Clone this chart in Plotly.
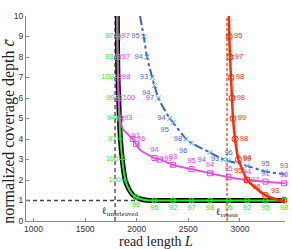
import plotly.graph_objects as go

# ---------------- data ----------------
x_range = [927, 3437]
y_range = [0, 10]
x_ticks = [1000, 1500, 2000, 2500, 3000]
y_ticks = [0, 1, 2, 3, 4, 5, 6, 7, 8, 9, 10]

L_interleaved = 1790
L_repeat = 2875
c_floor = 1

# sampled read lengths (shared grid) and coverage levels
L_grid = [1993, 2172, 2352, 2531, 2710, 2890, 3069, 3248, 3427]
c_levels = [9, 8, 7, 6, 5, 4, 3, 2]

# green / black curve
green_line_L = [1812, 1813, 1815, 1818, 1825, 1832, 1842, 1860, 1888, 1919, 1950, 1983, 2048, 2100, 2172, 3437]
green_line_c = [10, 9, 8, 7, 6, 5, 4, 3, 2, 1.6, 1.35, 1.19, 1.06, 1.01, 1.0, 1.0]
green_lvl_L = [1813, 1815, 1818, 1825, 1832, 1842, 1860, 1888]
green_lvl_lbl = ["97", "93", "100", "99", "94", "97", "100", "100"]
green_grid_c = [1.17, 1, 1, 1, 1, 1, 1, 1, 1]
green_grid_lbl = ["96", "95", "92", "97", "98", "95", "92", "95", "98"]

# blue dash-dot curve
blue_line_L = [2032, 2068, 2100, 2150, 2172, 2209, 2320, 2352, 2480, 2531, 2710, 2840, 2890, 3069, 3248, 3437]
blue_line_c = [10, 9, 8, 7, 6.6, 6, 5, 4.8, 4, 3.8, 3.34, 3, 2.93, 2.69, 2.41, 2.28]
blue_lvl_L = [2068, 2100, 2150, 2209, 2320, 2480, 2840]
blue_lvl_lbl = ["95", "94", "93", "97", "94", "98", "93"]
blue_grid_c = [None, 6.6, 4.8, 3.8, 3.34, 2.93, 2.69, 2.41, 2.30]
blue_grid_lbl = ["", "94", "95", "96", "94", "96", "94", "95", "93"]

# magenta curve
mag_line_L = [1812, 1813, 1815, 1818, 1825, 1838, 1850, 1870, 1961, 1993, 2032, 2172, 2226, 2352, 2531, 2710, 2890, 3069, 3248, 3437]
mag_line_c = [10, 9, 8, 7, 6, 5, 4.7, 4.45, 4.0, 3.75, 3.47, 3.07, 3.0, 2.74, 2.53, 2.33, 2.14, 2.0, 1.92, 1.84]
mag_lvl_L = [1813, 1815, 1818, 1825, 1838, 1961, 2226, 3066]
mag_lvl_lbl = ["97", "97", "98", "100", "93", "96", "99", "97"]
mag_grid_c = [3.75, 3.07, 2.74, 2.53, 2.33, 2.14, 2.0, 1.92, 1.84]
mag_grid_lbl = ["91", "94", "93", "95", "94", "95", "94", "91", "98"]

# red curve
red_line_L = [2893, 2897, 2904, 2914, 2923, 2933, 2953, 2985, 3025, 3069, 3180, 3248, 3360, 3437]
red_line_c = [10, 9, 8, 7, 6, 5, 4, 3, 2.5, 2.0, 1.5, 1.25, 1.05, 1.0]
red_lvl_L = [2897, 2904, 2914, 2923, 2933, 2953, 2985]
red_lvl_lbl = ["95", "97", "98", "98", "99", "98", "99"]
red_grid_c = [None, None, None, None, None, None, 2.0, 1.25, 1.02]
red_grid_lbl = ["", "", "", "", "", "", "95", "96", "93"]

# ---------------- styles ----------------
GREEN = "#22ee22"
BLUE = "#3f5fd8"
CYAN = "#44b4ff"
BLUE_TXT = "#5a62d0"
MAGENTA = "#f040f0"
RED = "#ff2a00"
LBL_FONT = "Liberation Sans Narrow, Liberation Sans, Arial"
SERIF = "Liberation Serif, Times New Roman, serif"

fig = go.Figure()


def dropna(xs, ys, ts):
    out = [(a, b, t) for a, b, t in zip(xs, ys, ts) if b is not None]
    return [o[0] for o in out], [o[1] for o in out], [o[2] for o in out]


# reference lines
fig.add_trace(go.Scatter(x=[x_range[0], x_range[1]], y=[c_floor, c_floor], mode="lines",
                         line=dict(color="#444444", width=1.3, dash="4px,3px"), hoverinfo="skip"))
fig.add_trace(go.Scatter(x=[L_interleaved, L_interleaved], y=y_range, mode="lines",
                         line=dict(color="#444444", width=1.3, dash="4px,3px"), hoverinfo="skip"))
fig.add_trace(go.Scatter(x=[L_repeat, L_repeat], y=y_range, mode="lines",
                         line=dict(color=RED, width=1.2, dash="3px,2px"), hoverinfo="skip"))

# black + green curve
fig.add_trace(go.Scatter(x=green_line_L, y=green_line_c, mode="lines",
                         line=dict(color="black", width=5, shape="spline", smoothing=0.6)))
fig.add_trace(go.Scatter(x=green_line_L, y=green_line_c, mode="lines",
                         line=dict(color=GREEN, width=2, shape="spline", smoothing=0.6)))

# magenta curve
fig.add_trace(go.Scatter(x=mag_line_L, y=mag_line_c, mode="lines",
                         line=dict(color=MAGENTA, width=1.8, shape="spline", smoothing=0.6)))
# blue curve
fig.add_trace(go.Scatter(x=blue_line_L, y=blue_line_c, mode="lines",
                         line=dict(color=BLUE, width=2, dash="dashdot", shape="spline", smoothing=0.6)))
# red curve
fig.add_trace(go.Scatter(x=red_line_L, y=red_line_c, mode="lines",
                         line=dict(color=RED, width=2.5, shape="spline", smoothing=0.6)))


# markers + labels
def add_marks(xs, ys, labels, symbol, mcolor, tcolor, tpos, msize=5):
    xs, ys, labels = dropna(xs, ys, labels)
    fig.add_trace(go.Scatter(
        x=xs, y=ys, mode="markers+text", text=labels, textposition=tpos,
        marker=dict(symbol=symbol, size=msize, color=mcolor, line=dict(color=mcolor, width=1)),
        textfont=dict(family=LBL_FONT, size=7.5, color=tcolor), cliponaxis=False))


add_marks(green_lvl_L, c_levels, green_lvl_lbl, "cross-thin-open", GREEN, GREEN, "middle left")
add_marks(L_grid, green_grid_c, green_grid_lbl, "circle-open", GREEN, GREEN, "bottom center")

add_marks(mag_lvl_L, c_levels, mag_lvl_lbl, "square-open", MAGENTA, MAGENTA, "middle right")
add_marks(L_grid, mag_grid_c, mag_grid_lbl, "square-open", MAGENTA, MAGENTA, "top center")

add_marks(blue_lvl_L, c_levels[:7], blue_lvl_lbl, "x-thin-open", CYAN, BLUE_TXT, "middle left")
blue_pos = ["bottom left" if L < 2850 else "top center" for L in L_grid]
add_marks(L_grid, blue_grid_c, blue_grid_lbl, "x-thin-open", CYAN, BLUE_TXT,
          [p for p, c in zip(blue_pos, blue_grid_c) if c is not None])

add_marks(red_lvl_L, c_levels[:7], red_lvl_lbl, "circle-open", RED, RED, "middle right", msize=6)
add_marks(L_grid, red_grid_c, red_grid_lbl, "circle-open", RED, RED, "top left", msize=6)

# line labels
fig.add_annotation(x=L_interleaved, y=0, xref="x", yref="y", text="ℓ<sub>interleaved</sub>",
                   showarrow=False, xanchor="center", yanchor="bottom", xshift=5, yshift=1,
                   font=dict(family=SERIF, size=10, color="#222222"))
fig.add_annotation(x=L_repeat, y=0, xref="x", yref="y", text="ℓ<sub>repeat</sub>",
                   showarrow=False, xanchor="center", yanchor="bottom", yshift=0,
                   font=dict(family=SERIF, size=10, color="#222222"))

# axis titles
fig.add_annotation(x=0.5, y=-0.098, xref="paper", yref="paper", text="read length <i>L</i>",
                   showarrow=False, xanchor="center", yanchor="middle",
                   font=dict(family=SERIF, size=14, color="#222222"))
fig.add_annotation(x=-0.066, y=0.44, xref="paper", yref="paper",
                   text="normalized coverage depth <i>c\u0304</i>", textangle=-90,
                   showarrow=False, xanchor="center", yanchor="middle",
                   font=dict(family=SERIF, size=16, color="#222222"))

axis_common = dict(showgrid=False, zeroline=False, showline=True, linecolor="#8a8a8a", linewidth=1,
                   ticks="inside", ticklen=3, tickcolor="#8a8a8a", mirror=False,
                   tickfont=dict(family=LBL_FONT, size=8.5, color="#333333"))
fig.update_xaxes(range=x_range, tickvals=x_ticks, ticktext=[str(v) for v in x_ticks], **axis_common)
fig.update_yaxes(range=y_range, tickvals=y_ticks, ticktext=[str(v) for v in y_ticks], **axis_common)

fig.update_layout(width=292, height=249, margin=dict(l=26, r=7, t=16, b=28),
                  plot_bgcolor="white", paper_bgcolor="white", showlegend=False)

fig.write_html("out.html", config={"displayModeBar": False},
               post_script="document.body.style.margin='0px';")
